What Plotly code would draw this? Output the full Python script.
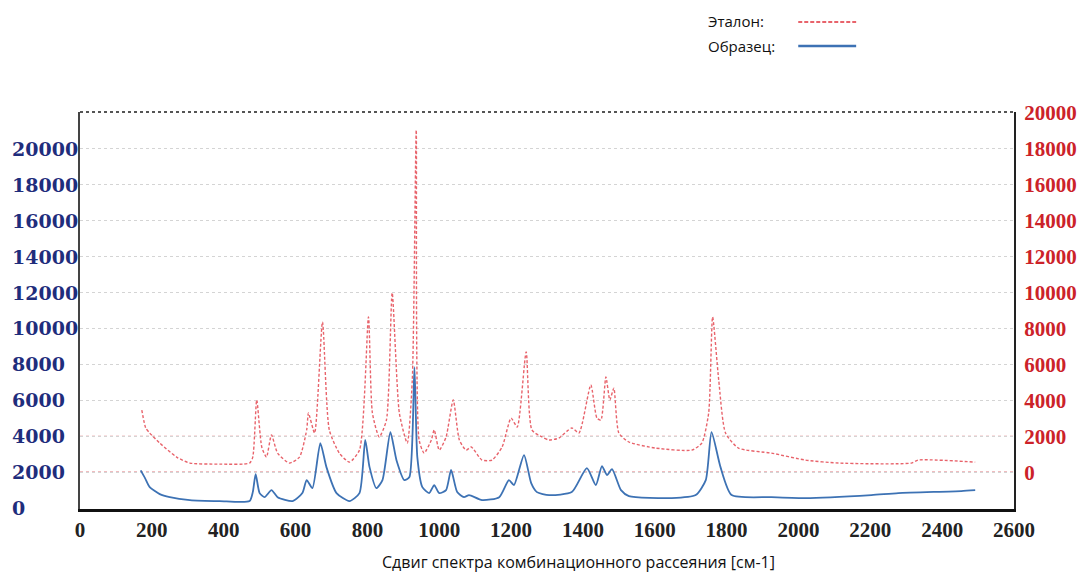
import plotly.graph_objects as go

# ---- data ----
# Образец (sample), left axis
sample_cm = [169, 181, 194, 222, 250, 306, 389, 472, 481, 489, 500, 514, 533, 550, 592, 619, 631, 647,
             669, 686, 714, 750, 778, 794, 806, 825, 842, 864, 881, 903, 917, 931, 939, 953, 972, 986,
             1000, 1019, 1033, 1050, 1069, 1083, 1119, 1167, 1194, 1208, 1236, 1256, 1272, 1306, 1369,
             1411, 1436, 1453, 1467, 1481, 1506, 1528, 1647, 1714, 1742, 1758, 1783, 1814, 1925, 2019,
             2203, 2278, 2453, 2492]
sample_int = [2100, 1670, 1170, 780, 610, 445, 390, 390, 890, 1890, 835, 610, 1000, 610, 390, 835, 1560, 1110,
              3620, 2280, 835, 390, 835, 3790, 2280, 1110, 1560, 4230, 2670, 1560, 1730, 7850, 2840, 1170, 835, 1280,
              835, 1000, 2120, 890, 610, 725, 445, 610, 1560, 1280, 2950, 1390, 890, 725, 890,
              2230, 1280, 2340, 1840, 2170, 1000, 670, 557, 725, 1560, 4230, 2280, 725, 610, 557,
              725, 835, 947, 1000]

# Эталон (reference), right axis
reference_cm = [172, 183, 194, 222, 269, 306, 389, 472, 481, 492, 506, 519, 533, 550, 583, 611, 631, 636,
                653, 675, 694, 722, 750, 778, 803, 814, 833, 853, 869, 889, 911, 925, 936, 944, 958,
                978, 986, 1000, 1019, 1039, 1056, 1075, 1089, 1119, 1147, 1175, 1200, 1217, 1242, 1258,
                1286, 1306, 1333, 1369, 1389, 1422, 1439, 1450, 1464, 1475, 1486, 1500, 1528, 1603,
                1703, 1731, 1750, 1761, 1778, 1797, 1833, 1925, 2019, 2111, 2314, 2333, 2492]
reference_int = [3460, 2460, 2180, 1620, 840, 507, 450, 507, 840, 4020, 1400, 840, 2070, 1060, 507, 840, 2350, 3290,
                 2180, 8360, 2350, 1060, 560, 1230, 8640, 3290, 1960, 2900, 9980, 3290, 1620, 5130, 19050, 1790, 1060,
                 1790, 2350, 1230, 1960, 4020, 1790, 1230, 1400, 675, 675, 1400, 3010, 2510, 6690, 2350,
                 1960, 1790, 1900, 2460, 2180, 4850, 3010, 2900, 5300, 4020, 4680, 2180, 1680, 1340,
                 1230, 1620, 3290, 8640, 5130, 2180, 1340, 1060, 675, 507, 507, 675, 560]

x_ticks = list(range(0, 2601, 200))
left_ticks = list(range(0, 20001, 2000))
right_ticks = list(range(0, 20001, 2000))
left_grid = list(range(0, 22001, 2000))
right_ref_levels = [0, 2000]

legend_names = ["Эталон:", "Образец:"]
x_title = "Сдвиг спектра комбинационного рассеяния [см-1]"

RED = "#e8636b"
BLUE = "#3d72b4"

fig = go.Figure()
fig.add_trace(go.Scatter(x=reference_cm, y=reference_int, yaxis="y2", mode="lines",
                         name=legend_names[0],
                         line=dict(color=RED, width=1.4, dash="3px,2px", shape="spline", smoothing=0.6)))
fig.add_trace(go.Scatter(x=sample_cm, y=sample_int, yaxis="y", mode="lines",
                         name=legend_names[1],
                         line=dict(color=BLUE, width=1.8, shape="spline", smoothing=0.6)))

annotations = []
# left tick labels (left-aligned as in the reference)
for v in left_ticks:
    annotations.append(dict(x=-0.0748, xref="paper", y=v, yref="y", text=str(v),
                            showarrow=False, xanchor="left", yanchor="middle",
                            font=dict(family="DejaVu Serif", size=19, color="#1f2d7c", weight="bold")))
# legend texts
for name, yp in zip(legend_names, [1.229, 1.166]):
    annotations.append(dict(x=0.670, xref="paper", y=yp, yref="paper", text=name,
                            showarrow=False, xanchor="left", yanchor="middle",
                            font=dict(family="Open Sans", size=15, color="#111")))
# x-axis title
annotations.append(dict(x=0.534, xref="paper", y=-0.1335, yref="paper", text=x_title,
                        showarrow=False, xanchor="center", yanchor="middle",
                        font=dict(family="Open Sans", size=16, color="#111")))

shapes = []
# legend line samples
shapes.append(dict(type="line", xref="paper", yref="paper", x0=0.769, x1=0.831, y0=1.2267, y1=1.2267,
                   line=dict(color=RED, width=2, dash="4px,2px")))
shapes.append(dict(type="line", xref="paper", yref="paper", x0=0.769, x1=0.831, y0=1.1662, y1=1.1662,
                   line=dict(color=BLUE, width=2.5)))
# red dotted reference levels on the right axis
for lv in right_ref_levels:
    shapes.append(dict(type="line", xref="paper", yref="y2", x0=0, x1=1, y0=lv, y1=lv, layer="below",
                       line=dict(color="#e27b80", width=1.2, dash="dot")))
# top border (dotted)
shapes.append(dict(type="line", xref="paper", yref="paper", x0=0, x1=1, y0=1, y1=1,
                   line=dict(color="#555555", width=2, dash="dot")))

fig.update_layout(
    width=1089, height=572,
    margin=dict(l=80, r=73, t=112, b=63),
    paper_bgcolor="white", plot_bgcolor="white",
    showlegend=False,
    annotations=annotations,
    shapes=shapes,
    xaxis=dict(range=[0, 2600], tickvals=x_ticks, showgrid=False, zeroline=False,
               showline=True, linecolor="#111", linewidth=3, ticks="",
               ticklabelstandoff=0,
               tickfont=dict(family="Liberation Serif", size=21, color="#222", weight="bold")),
    yaxis=dict(range=[-50, 22050], tickvals=left_grid, showticklabels=False, showgrid=True,
               gridcolor="#d4d4d4", griddash="dot", gridwidth=1, zeroline=False,
               showline=True, linecolor="#444", linewidth=2, ticks=""),
    yaxis2=dict(range=[-2050, 20050], tickvals=right_ticks, overlaying="y", side="right",
                tickformat="d",
                showgrid=False, zeroline=False, showline=True, linecolor="#222", linewidth=2,
                ticks="", ticklabelstandoff=4,
                tickfont=dict(family="Liberation Serif", size=21, color="#cc2229", weight="bold")),
)

fig.write_html("out.html", config={"displayModeBar": False},
               post_script="document.body.style.margin='0';")
